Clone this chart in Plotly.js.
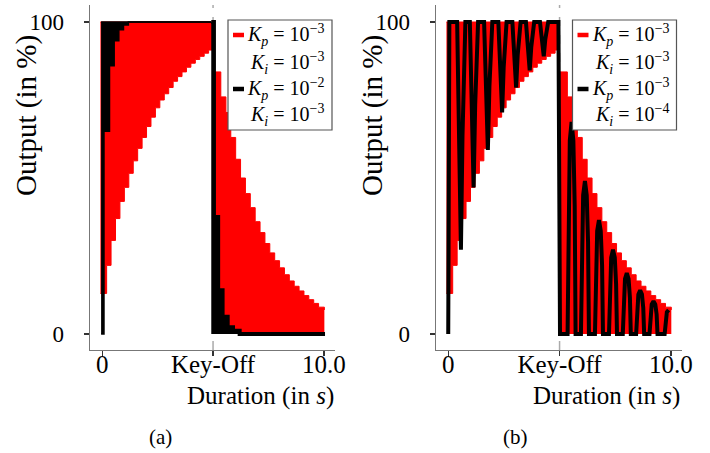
<!DOCTYPE html>
<html><head><meta charset="utf-8">
<script src="https://cdn.plot.ly/plotly-3.0.1.min.js"></script>
<style>html,body{margin:0;padding:0;background:#fff}#chart{width:710px;height:453px}</style>
</head><body><div id="chart"></div>
<script>
// ---------------- data ----------------
const KEY_OFF = 5;          // key-off instant (s)
const SATURATION = 100;     // output saturation (%)
const xTickVals = [0, KEY_OFF, 10];
const xTickText = ['0', 'Key-Off', '10.0'];
const yTickVals = [0, 100];
const yTickText = ['0', '100'];

// Red series (Kp = 1e-3, Ki = 1e-3): on-phase lower envelope of the PWM band (band reaches 100)
const redOnT   = [-0.08, 0.2, 0.4, 0.6, 0.8, 1.0, 1.2, 1.4, 1.6, 1.8, 2.0, 2.2, 2.4, 2.6, 2.8, 3.0, 3.2, 3.4, 3.6, 3.8, 4.0, 4.2, 4.4, 4.6, 4.8, 4.96];
const redOnLow = [13, 22, 30, 37, 42.5, 47, 51.5, 55.5, 59.5, 63, 66.5, 69.5, 72.5, 75, 77, 79, 81, 82.5, 84, 85.5, 86.8, 88, 89, 90, 91, 91];
// Red series: off-phase upper envelope (band reaches 0)
const redOffT    = [4.98, 5.35, 5.58, 5.8, 6.02, 6.24, 6.46, 6.68, 6.9, 7.12, 7.34, 7.56, 7.78, 8.0, 8.22, 8.44, 8.66, 8.88, 9.1, 9.32, 9.54, 9.76, 10.02];
const redOffHigh = [84, 76, 71, 63, 56, 50, 45, 40.5, 36, 32.5, 29, 26, 23.5, 21.2, 19, 17, 15.3, 13.8, 12.3, 11, 9.8, 8.6, 7.7];

// Black series of (a) (Kp = 1e-2, Ki = 1e-3)
const blackAOnT   = [-0.05, 0.08, 0.33, 0.54, 0.75, 0.96, 1.18, 4.92];
const blackAOnLow = [0, 65, 86, 94, 97.5, 99, 100, 100];
const blackAOffT    = [4.92, 5.04, 5.23, 5.43, 5.66, 5.9, 6.2, 10.05];
const blackAOffHigh = [100, 37.5, 14, 5.5, 2.2, 1, 0, 0];

// Black series of (b) (Kp = 1e-3, Ki = 1e-4)
const blackBT = [0, 0.05,
  0.40, 0.49, 0.57, 0.64, 0.71, 0.77,
  0.97, 1.06, 1.14, 1.21, 1.28, 1.34,
  1.61, 1.70, 1.78, 1.85, 1.92, 1.98,
  2.25, 2.34, 2.42, 2.49, 2.56, 2.62,
  2.88, 2.97, 3.05, 3.12, 3.19, 3.25,
  3.49, 3.58, 3.66, 3.73, 3.80, 3.86,
  4.12, 4.21, 4.29, 4.36, 4.43, 4.49,
  4.95, 5.02,
  5.36, 5.40, 5.46, 5.54, 5.62, 5.68, 5.72,
  5.96, 6.00, 6.06, 6.14, 6.22, 6.28, 6.32,
  6.59, 6.63, 6.69, 6.77, 6.85, 6.91, 6.95,
  7.22, 7.26, 7.32, 7.40, 7.48, 7.54, 7.58,
  7.84, 7.88, 7.94, 8.02, 8.10, 8.16, 8.20,
  8.44, 8.48, 8.54, 8.62, 8.70, 8.76, 8.80,
  9.04, 9.08, 9.14, 9.22, 9.30, 9.36, 9.40,
  9.72, 9.76, 9.82, 9.90];
const blackBV = [0, 100,
  100, 67, 27, 63.5, 89, 100,
  100, 76, 47, 73.5, 92, 100,
  100, 81.5, 59, 79.5, 94, 100,
  100, 87, 71, 85.5, 95.5, 100,
  100, 90.5, 79, 89.5, 97, 100,
  100, 93, 84.5, 92, 97.5, 100,
  100, 95, 89, 94.5, 98, 100,
  100, 0,
  0, 41, 62, 68, 62, 41, 0,
  0, 29.5, 44.5, 49, 44.5, 29.5, 0,
  0, 22, 33, 36.5, 33, 22, 0,
  0, 16, 24.5, 27, 24.5, 16, 0,
  0, 11.7, 17.7, 19.5, 17.7, 11.7, 0,
  0, 8.4, 12.7, 14, 12.7, 8.4, 0,
  0, 6.3, 9.5, 10.5, 9.5, 6.3, 0,
  0, 4.6, 7, 7.7];

// ---------------- styling helpers ----------------
const W = 710, H = 453;
const px = X => X / W;
const py = Y => 1 - Y / H;
const FONT = 'Liberation Serif, Times New Roman, serif';
const RED = '#ff0000', BLACK = '#000000';

function redTraces(xa, ya) {
  return [
    {x: redOnT, y: redOnLow, xaxis: xa, yaxis: ya, mode: 'lines', line: {color: RED, width: 1, shape: 'hv'}, showlegend: false, hoverinfo: 'skip'},
    {x: [redOnT[0], redOnT[redOnT.length - 1]], y: [SATURATION, SATURATION], xaxis: xa, yaxis: ya, mode: 'lines',
     line: {color: RED, width: 1}, fill: 'tonexty', fillcolor: RED, showlegend: false, hoverinfo: 'skip'},
    {x: redOffT, y: redOffHigh, xaxis: xa, yaxis: ya, mode: 'lines', line: {color: RED, width: 1, shape: 'hv'},
     fill: 'tozeroy', fillcolor: RED, showlegend: false, hoverinfo: 'skip'}
  ];
}

const data = [
  ...redTraces('x', 'y'),
  {x: blackAOnT, y: blackAOnLow, xaxis: 'x', yaxis: 'y', mode: 'lines', line: {color: BLACK, width: 1.5, shape: 'hv'}, showlegend: false, hoverinfo: 'skip'},
  {x: [blackAOnT[0], blackAOnT[blackAOnT.length - 1]], y: [SATURATION, SATURATION], xaxis: 'x', yaxis: 'y', mode: 'lines',
   line: {color: BLACK, width: 1.5}, fill: 'tonexty', fillcolor: BLACK, showlegend: false, hoverinfo: 'skip'},
  {x: blackAOffT, y: blackAOffHigh, xaxis: 'x', yaxis: 'y', mode: 'lines', line: {color: BLACK, width: 4, shape: 'hv'},
   fill: 'tozeroy', fillcolor: BLACK, showlegend: false, hoverinfo: 'skip'},
  ...redTraces('x2', 'y2'),
  {x: blackBT, y: blackBV, xaxis: 'x2', yaxis: 'y2', mode: 'lines', line: {color: BLACK, width: 4}, showlegend: false, hoverinfo: 'skip'}
];

const yDomain = [py(350), py(5)];
function xAxis(dom) {
  return {domain: dom, range: [-0.55, 10.5], tickmode: 'array', tickvals: xTickVals, ticktext: xTickText,
    ticks: 'outside', ticklen: 5, tickwidth: 1.3, tickcolor: '#333', showline: true, linecolor: '#777', linewidth: 1.3,
    showgrid: false, zeroline: false, tickfont: {family: FONT, size: 25, color: '#000'}, ticklabelstandoff: -13, fixedrange: true};
}
function yAxis(anchor) {
  return {domain: yDomain, anchor: anchor, range: [-5.13, 105.45], tickmode: 'array', tickvals: yTickVals, ticktext: yTickText,
    ticks: 'outside', ticklen: 5, tickwidth: 1.3, tickcolor: '#333', showline: true, linecolor: '#777', linewidth: 1.3,
    showgrid: false, zeroline: false, tickfont: {family: FONT, size: 23, color: '#000'}, ticklabelstandoff: 15, fixedrange: true};
}

const kp = e => '<i>K</i><sub><i>p</i></sub> = 10<sup>\u2212' + e + '</sup>';
const ki = e => '<i>K</i><sub><i>i</i></sub> = 10<sup>\u2212' + e + '</sup>';
const legendA = [kp(3), ki(3), kp(2), ki(3)];
const legendB = [kp(3), ki(3), kp(3), ki(4)];

function note(text, X, Y, opts) {
  return Object.assign({text: text, x: px(X), y: py(Y), xref: 'paper', yref: 'paper', showarrow: false,
    xanchor: 'center', yanchor: 'middle', font: {family: FONT, size: 24, color: '#000'}}, opts || {});
}

const annotations = [];
const shapes = [];
[[0, legendA], [344.5, legendB]].forEach(([dx, lines]) => {
  shapes.push({type: 'rect', xref: 'paper', yref: 'paper', x0: px(228 + dx), x1: px(332 + dx), y0: py(130), y1: py(20),
    line: {color: '#555', width: 1.2}, fillcolor: '#fff', layer: 'above'});
  shapes.push({type: 'line', xref: 'paper', yref: 'paper', x0: px(233 + dx), x1: px(244 + dx), y0: py(35), y1: py(35),
    line: {color: RED, width: 4.5}, layer: 'above'});
  shapes.push({type: 'line', xref: 'paper', yref: 'paper', x0: px(233 + dx), x1: px(244 + dx), y0: py(89), y1: py(89),
    line: {color: BLACK, width: 4.5}, layer: 'above'});
  const ys = [35, 63, 89, 115];
  const xs = [245, 248, 245, 248];
  lines.forEach((t, i) => annotations.push(note(t, xs[i] + dx, ys[i], {xanchor: 'left', font: {family: FONT, size: 20, color: '#000'}})));
});
[[0, '(a)', 160], [346, '(b)', 515]].forEach(([dx, lab, cx]) => {
  annotations.push(note('Output (in %)', 27 + dx, 116, {textangle: -90, font: {family: FONT, size: 29, color: '#000'}}));
  annotations.push(note('Duration (in <i>s</i>)', 336 + dx, 396, {xanchor: 'right', font: {family: FONT, size: 25, color: '#000'}}));
  annotations.push(note(lab, cx, 437, {font: {family: FONT, size: 21, color: '#000'}}));
});
['x', 'x2'].forEach(xr => {
  shapes.push({type: 'line', xref: xr, yref: (xr === 'x' ? 'y' : 'y2') + ' domain', x0: KEY_OFF, x1: KEY_OFF, y0: 0, y1: 1,
    line: {color: '#aaa', width: 1.5, dash: 'dash'}, layer: 'below'});
});

const layout = {
  width: W, height: H, margin: {l: 0, r: 0, t: 0, b: 0}, paper_bgcolor: '#fff', plot_bgcolor: 'rgba(0,0,0,0)',
  showlegend: false,
  xaxis: Object.assign(xAxis([px(90), px(335)]), {anchor: 'y'}),
  yaxis: yAxis('x'),
  xaxis2: Object.assign(xAxis([px(436), px(682)]), {anchor: 'y2'}),
  yaxis2: yAxis('x2'),
  annotations: annotations, shapes: shapes
};
Plotly.newPlot('chart', data, layout, {displayModeBar: false, staticPlot: true});
</script></body></html>
